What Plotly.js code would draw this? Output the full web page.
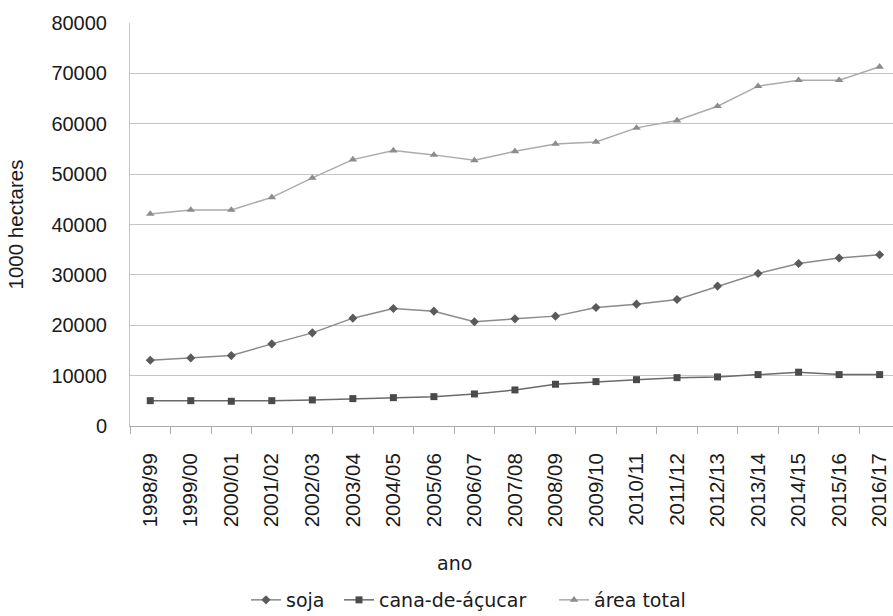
<!DOCTYPE html>
<html>
<head>
<meta charset="utf-8">
<script src="https://cdn.plot.ly/plotly-3.0.1.min.js"></script>
<style>html,body{margin:0;padding:0;background:#fff;overflow:hidden;}</style>
</head>
<body>
<div id="chart" style="width:893px;height:616px;"></div>
<script>
const anos = ["1998/99","1999/00","2000/01","2001/02","2002/03","2003/04","2004/05","2005/06","2006/07","2007/08","2008/09","2009/10","2010/11","2011/12","2012/13","2013/14","2014/15","2015/16","2016/17"];
const soja = [13060,13520,13980,16300,18490,21410,23320,22800,20680,21270,21810,23520,24190,25110,27770,30280,32270,33340,34000];
const cana = [5030,5030,4910,5030,5170,5430,5630,5830,6360,7160,8290,8810,9200,9600,9740,10200,10680,10200,10200];
const areaTotal = [42090,42880,42880,45390,49250,52880,54670,53820,52740,54530,56000,56400,59180,60640,63480,67460,68650,68650,71310];
const yTicks = [0,10000,20000,30000,40000,50000,60000,70000,80000];

const traces = [
  {x: anos, y: soja, name: "soja", type: "scatter", mode: "lines+markers", legend: "legend",
   line: {color: "#8a8a8a", width: 1.5},
   marker: {symbol: "diamond", size: 7, color: "#5a5a5a"}},
  {x: anos, y: cana, name: "cana-de-áçucar", type: "scatter", mode: "lines+markers", legend: "legend2",
   line: {color: "#6a6a6a", width: 1.5},
   marker: {symbol: "square", size: 7, color: "#4a4a4a"}},
  {x: anos, y: areaTotal, name: "área total", type: "scatter", mode: "lines+markers", legend: "legend3",
   line: {color: "#ababab", width: 1.5},
   marker: {symbol: "triangle-up", size: 7.5, color: "#8c8c8c"}}
];

const legendFont = {family: "DejaVu Sans, sans-serif", size: 19, color: "#1a1a1a"};
function legendAt(px) {
  return {orientation: "h", xref: "container", yref: "container",
    x: px / 893, xanchor: "left", y: 1 - 600 / 616, yanchor: "middle",
    font: legendFont, bgcolor: "rgba(0,0,0,0)"};
}

const layout = {
  width: 893, height: 616,
  margin: {l: 130, r: 0, t: 23, b: 190},
  paper_bgcolor: "#fff", plot_bgcolor: "#fff",
  showlegend: true,
  font: {family: "Liberation Sans, Arial, sans-serif", size: 20, color: "#1a1a1a"},
  xaxis: {
    type: "category", range: [-0.5, 18.33], autorange: false,
    tickson: "boundaries", ticks: "outside", ticklen: 7, tickcolor: "#aaaaaa", tickwidth: 1,
    showline: true, linecolor: "#aaaaaa", linewidth: 1,
    showgrid: false, zeroline: false,
    tickangle: -90, ticklabelstandoff: 18,
    tickfont: {family: "Liberation Sans, Arial, sans-serif", size: 20.5, color: "#1a1a1a"}
  },
  yaxis: {
    range: [0, 80000], autorange: false,
    tickmode: "array", tickvals: yTicks, ticktext: yTicks.map(String),
    showgrid: true, gridcolor: "#c4c4c4", gridwidth: 1,
    showline: true, linecolor: "#c4c4c4", linewidth: 1,
    zeroline: false, ticks: "",
    ticklabelstandoff: 18,
    tickfont: {family: "Liberation Sans, Arial, sans-serif", size: 20, color: "#1a1a1a"},
    title: {text: "1000 hectares", font: {family: "Liberation Sans, Arial, sans-serif", size: 20.5, color: "#1a1a1a"}, standoff: 22}
  },
  legend: legendAt(246),
  legend2: legendAt(339),
  legend3: legendAt(554),
  annotations: [
    {text: "ano", xref: "paper", yref: "paper", x: (454-130)/763, y: (426-563)/403,
     xanchor: "center", yanchor: "middle", showarrow: false,
     font: {family: "DejaVu Sans, sans-serif", size: 19, color: "#1a1a1a"}}
  ]
};

Plotly.newPlot("chart", traces, layout, {displayModeBar: false, staticPlot: true});
</script>
</body>
</html>
